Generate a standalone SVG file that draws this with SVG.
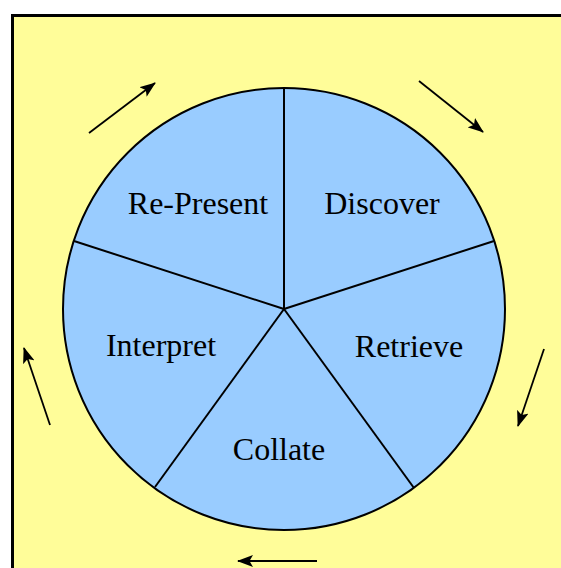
<svg xmlns="http://www.w3.org/2000/svg" width="561" height="568" viewBox="0 0 561 568">
<style>
.lbl{font-family:"Liberation Serif","Times New Roman",serif;font-size:32px;fill:#000;text-anchor:middle}
.spoke{stroke:#000;stroke-width:2;fill:none}
.arr{stroke:#000;stroke-width:1.8;fill:none;marker-end:url(#ah)}
</style>
<defs>
<marker id="ah" viewBox="0 0 16 12" refX="15" refY="6" markerWidth="16" markerHeight="12" markerUnits="userSpaceOnUse" orient="auto">
<path d="M0,0 L16,6 L0,12 L3.5,6 Z" fill="#000"/>
</marker>
</defs>
<rect x="0" y="0" width="561" height="568" fill="#fff"/>
<rect x="12" y="15" width="549" height="553" fill="#FFFD99"/>
<path d="M12.5,568 V15.5 H561" stroke="#000" stroke-width="3" fill="none"/>
<g id="wheel">
<circle cx="284" cy="309" r="221" fill="#99CCFF" stroke="#000" stroke-width="2"/>
</g>
<g id="connectors">
<line class="spoke" x1="284" y1="309" x2="284" y2="88" stroke-width="2.5"/>
<line class="spoke" x1="284" y1="309" x2="494" y2="241"/>
<line class="spoke" x1="284" y1="309" x2="74" y2="241"/>
<line class="spoke" x1="284" y1="309" x2="414" y2="488"/>
<line class="spoke" x1="284" y1="309" x2="155" y2="487"/>
<line class="arr" x1="89" y1="133" x2="155" y2="83"/>
<line class="arr" x1="419" y1="81" x2="483" y2="132"/>
<line class="arr" x1="544" y1="349" x2="518" y2="426"/>
<line class="arr" x1="317" y1="561" x2="238" y2="561"/>
<line class="arr" x1="50" y1="425" x2="24" y2="348"/>
</g>
<g id="re-present"><text class="lbl" x="198" y="214">Re-Present</text></g>
<g id="discover"><text class="lbl" x="382" y="214">Discover</text></g>
<g id="retrieve"><text class="lbl" x="409" y="357">Retrieve</text></g>
<g id="collate"><text class="lbl" x="279" y="460">Collate</text></g>
<g id="interpret"><text class="lbl" x="161" y="356">Interpret</text></g>
</svg>
